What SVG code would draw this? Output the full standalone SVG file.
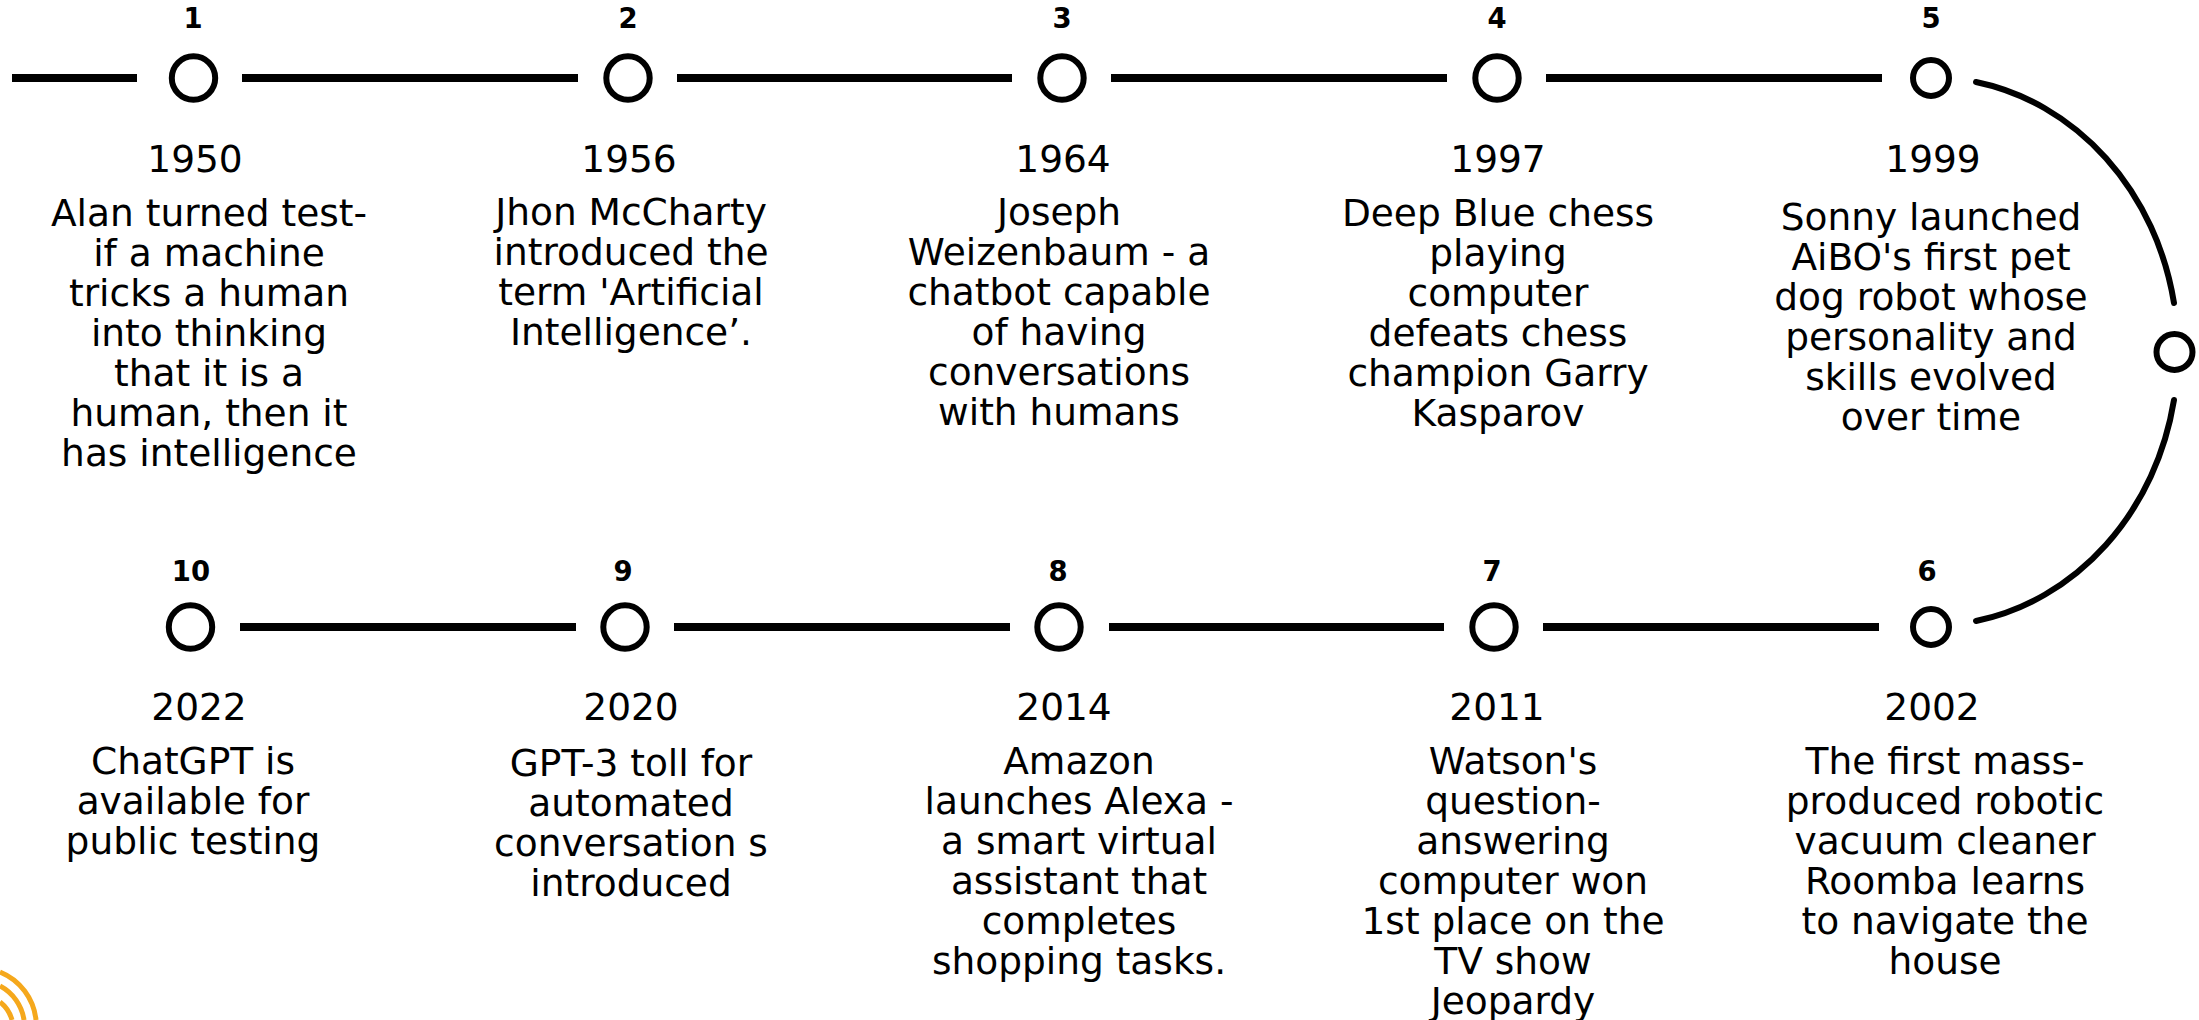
<svg xmlns="http://www.w3.org/2000/svg" width="2199" height="1020" viewBox="0 0 2199 1020">
<style>
text{font-family:"DejaVu Sans",sans-serif;fill:#000;text-anchor:middle}
.n{font-size:27.500px;font-weight:700}
.y{font-size:37.500px}
.d{font-size:37.500px}
circle{fill:none;stroke:#000;stroke-width:6}
.c line{stroke:#000;stroke-width:8}
.c path{fill:none;stroke:#000;stroke-width:6;stroke-linecap:round}
.logo path{fill:none;stroke:#f5a81c;stroke-width:5}
</style>
<rect width="2199" height="1020" fill="#fff"/>
<g id="connectors" class="c">
<line x1="12" y1="78" x2="137" y2="78"/>
<line x1="242" y1="78" x2="578" y2="78"/>
<line x1="677" y1="78" x2="1012" y2="78"/>
<line x1="1111" y1="78" x2="1447" y2="78"/>
<line x1="1546" y1="78" x2="1882" y2="78"/>
<line x1="240" y1="627" x2="576" y2="627"/>
<line x1="674" y1="627" x2="1010" y2="627"/>
<line x1="1109" y1="627" x2="1444" y2="627"/>
<line x1="1543" y1="627" x2="1879" y2="627"/>
<path d="M1976 82A247 274 0 0 1 2174 303"/>
<path d="M2174 400A247 274 0 0 1 1976 621"/>
</g>
<g id="node1"><text class="n" x="193" y="28">1</text><circle cx="193.500" cy="78" r="21.700"/><text class="y" x="195" y="172">1950</text><text class="d" x="209" y="226">Alan turned test-<tspan x="209" dy="40">if a machine</tspan><tspan x="209" dy="40">tricks a human</tspan><tspan x="209" dy="40">into thinking</tspan><tspan x="209" dy="40">that it is a</tspan><tspan x="209" dy="40">human, then it</tspan><tspan x="209" dy="40">has intelligence</tspan></text></g>
<g id="node2"><text class="n" x="628" y="28">2</text><circle cx="628" cy="78" r="21.700"/><text class="y" x="629" y="172">1956</text><text class="d" x="631" y="225">Jhon McCharty<tspan x="631" dy="40">introduced the</tspan><tspan x="631" dy="40">term 'Artificial</tspan><tspan x="631" dy="40">Intelligence’.</tspan></text></g>
<g id="node3"><text class="n" x="1062" y="28">3</text><circle cx="1062" cy="78" r="21.700"/><text class="y" x="1063" y="172">1964</text><text class="d" x="1059" y="225">Joseph<tspan x="1059" dy="40">Weizenbaum - a</tspan><tspan x="1059" dy="40">chatbot capable</tspan><tspan x="1059" dy="40">of having</tspan><tspan x="1059" dy="40">conversations</tspan><tspan x="1059" dy="40">with humans</tspan></text></g>
<g id="node4"><text class="n" x="1497" y="28">4</text><circle cx="1497" cy="78" r="21.700"/><text class="y" x="1498" y="172">1997</text><text class="d" x="1498" y="226">Deep Blue chess<tspan x="1498" dy="40">playing</tspan><tspan x="1498" dy="40">computer</tspan><tspan x="1498" dy="40">defeats chess</tspan><tspan x="1498" dy="40">champion Garry</tspan><tspan x="1498" dy="40">Kasparov</tspan></text></g>
<g id="node5"><text class="n" x="1931" y="28">5</text><circle cx="1931" cy="78" r="18"/><text class="y" x="1933" y="172">1999</text><text class="d" x="1931" y="230">Sonny launched<tspan x="1931" dy="40">AiBO's first pet</tspan><tspan x="1931" dy="40">dog robot whose</tspan><tspan x="1931" dy="40">personality and</tspan><tspan x="1931" dy="40">skills evolved</tspan><tspan x="1931" dy="40">over time</tspan></text></g>
<g id="turn"><circle cx="2174.500" cy="352" r="18"/></g>
<g id="node6"><text class="n" x="1927" y="581">6</text><circle cx="1931" cy="627" r="18"/><text class="y" x="1932" y="720">2002</text><text class="d" x="1945" y="773.500">The first mass-<tspan x="1945" dy="40">produced robotic</tspan><tspan x="1945" dy="40">vacuum cleaner</tspan><tspan x="1945" dy="40">Roomba learns</tspan><tspan x="1945" dy="40">to navigate the</tspan><tspan x="1945" dy="40">house</tspan></text></g>
<g id="node7"><text class="n" x="1492" y="581">7</text><circle cx="1494" cy="627" r="21.700"/><text class="y" x="1497" y="720">2011</text><text class="d" x="1513" y="773.500">Watson's<tspan x="1513" dy="40">question-</tspan><tspan x="1513" dy="40">answering</tspan><tspan x="1513" dy="40">computer won</tspan><tspan x="1513" dy="40">1st place on the</tspan><tspan x="1513" dy="40">TV show</tspan><tspan x="1513" dy="40">Jeopardy</tspan></text></g>
<g id="node8"><text class="n" x="1058" y="581">8</text><circle cx="1059" cy="627" r="21.700"/><text class="y" x="1064" y="720">2014</text><text class="d" x="1079" y="773.500">Amazon<tspan x="1079" dy="40">launches Alexa -</tspan><tspan x="1079" dy="40">a smart virtual</tspan><tspan x="1079" dy="40">assistant that</tspan><tspan x="1079" dy="40">completes</tspan><tspan x="1079" dy="40">shopping tasks.</tspan></text></g>
<g id="node9"><text class="n" x="623" y="581">9</text><circle cx="625" cy="627" r="21.700"/><text class="y" x="631" y="720">2020</text><text class="d" x="631" y="775.500">GPT-3 toll for<tspan x="631" dy="40">automated</tspan><tspan x="631" dy="40">conversation s</tspan><tspan x="631" dy="40">introduced</tspan></text></g>
<g id="node10"><text class="n" x="191" y="581">10</text><circle cx="190.500" cy="627" r="21.700"/><text class="y" x="199" y="720">2022</text><text class="d" x="193" y="773.500">ChatGPT is<tspan x="193" dy="40">available for</tspan><tspan x="193" dy="40">public testing</tspan></text></g>
<g class="logo"><path d="M0 972A58 58 0 0 1 36 1020"/><path d="M0 986A46 46 0 0 1 24 1020"/><path d="M0 1002A34 34 0 0 1 12 1020"/></g>
</svg>
